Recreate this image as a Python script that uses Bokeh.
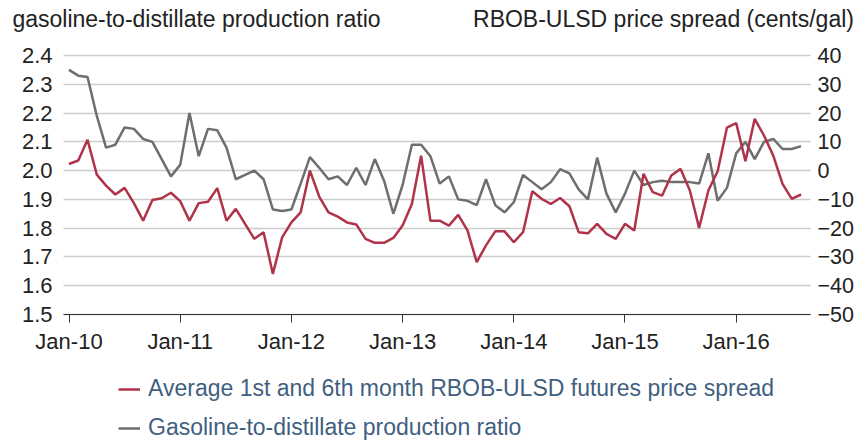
from bokeh.plotting import figure
from bokeh.models import (Range1d, LinearAxis, FixedTicker, NumeralTickFormatter,
                          Legend, LegendItem, ColumnDataSource)
from bokeh.embed import file_html
from bokeh.resources import INLINE
import pandas as pd

# ---- data -------------------------------------------------------------
months = [d.strftime("%b-%y") for d in pd.date_range("2010-01-01", "2016-08-01", freq="MS")]

production_ratio = [
    2.35, 2.33, 2.325, 2.19, 2.08, 2.09, 2.15, 2.145, 2.11, 2.10, 2.04, 1.98,
    2.02, 2.20, 2.05, 2.145, 2.14, 2.08, 1.97, 1.985, 2.00, 1.97, 1.865, 1.86,
    1.865, 1.955, 2.047, 2.01, 1.97, 1.98, 1.95, 2.01, 1.95, 2.04, 1.965, 1.85,
    1.95, 2.09, 2.09, 2.05, 1.955, 1.98, 1.90, 1.895, 1.88, 1.97, 1.88, 1.855,
    1.89, 1.985, 1.96, 1.935, 1.96, 2.005, 1.99, 1.935, 1.90, 2.045, 1.92, 1.855,
    1.92, 2.00, 1.95, 1.96, 1.965, 1.96, 1.96, 1.96, 1.955, 2.06, 1.895, 1.94,
    2.06, 2.10, 2.04, 2.10, 2.11, 2.075, 2.075, 2.085,
]

price_spread = [
    2.3, 3.5, 10.7, -1.4, -5.2, -8.3, -6.0, -11.3, -17.4, -10.2, -9.6, -7.7,
    -10.6, -17.4, -11.3, -10.8, -6.1, -17.4, -13.3, -18.5, -23.7, -21.4, -35.9, -23.2,
    -18.0, -14.5, 0.0, -9.0, -14.5, -16.0, -18.0, -18.7, -23.7, -25.1, -25.1, -23.4,
    -19.1, -11.6, 5.2, -17.4, -17.4, -19.1, -15.4, -20.8, -31.8, -26.0, -21.1, -21.1,
    -24.9, -21.4, -7.2, -9.8, -11.6, -9.5, -12.4, -21.4, -21.8, -18.5, -22.0, -23.7,
    -18.5, -20.8, -1.1, -7.5, -8.7, -1.7, 0.6, -6.9, -19.9, -6.9, -0.2, 14.9,
    16.5, 3.3, 18.0, 12.2, 5.2, -4.6, -9.8, -8.3,
]

ratio_ticks = [1.5, 1.6, 1.7, 1.8, 1.9, 2.0, 2.1, 2.2, 2.3, 2.4]
spread_ticks = [-50, -40, -30, -20, -10, 0, 10, 20, 30, 40]
x_tick_labels = ["Jan-10", "Jan-11", "Jan-12", "Jan-13", "Jan-14", "Jan-15", "Jan-16"]

left_title = "gasoline-to-distillate production ratio"
right_title = "RBOB-ULSD price spread (cents/gal)"
spread_label = "Average 1st and 6th month RBOB-ULSD futures price spread"
ratio_label = "Gasoline-to-distillate production ratio"

# ---- styling / layout ---------------------------------------------------
FONT = "Liberation Sans"
RED = "#b0334a"
GRAY = "#6e6e6e"
TXT = "#222222"
LEG_TXT = "#3f5f80"

# The frame covers the whole 857x440 canvas; the plotting area runs from
# x=63 to x=810 px and from y=55 (2.4 / 40) to y=314 px (1.5 / -50).
W, H = 857, 440
PL, PR, PT, PB = 63, 810, 55, 314
X_LO, X_HI = -0.594, 80.02            # month index at PL and PR
ppm = (PR - PL) / (X_HI - X_LO)
x_lo = X_LO - PL / ppm
x_hi = X_HI + (W - PR) / ppm
ppu_l = (PB - PT) / (ratio_ticks[-1] - ratio_ticks[0])
ppu_r = (PB - PT) / (spread_ticks[-1] - spread_ticks[0])
y_lo = ratio_ticks[0] - (H - PB) / ppu_l
y_hi = ratio_ticks[-1] + PT / ppu_l
s_lo = spread_ticks[0] - (H - PB) / ppu_r
s_hi = spread_ticks[-1] + PT / ppu_r
title_line_y = ratio_ticks[-1] + (PT - 40) / ppu_l

idx = list(range(len(months)))
src = ColumnDataSource(dict(x=idx, month=months, ratio=production_ratio, spread=price_spread))

p = figure(width=W, height=H, output_backend="svg", toolbar_location=None,
           x_range=Range1d(x_lo, x_hi), y_range=Range1d(y_lo, y_hi),
           min_border_left=0, min_border_right=0, min_border_top=0, min_border_bottom=0)
p.extra_y_ranges = {"spread": Range1d(s_lo, s_hi)}
p.extra_x_ranges = {"px": Range1d(0, W)}
p.outline_line_color = None
p.background_fill_color = "white"
p.border_fill_color = "white"

p.xgrid.visible = False
p.ygrid.ticker = FixedTicker(ticks=ratio_ticks)
p.ygrid.grid_line_color = "#cccccc"
p.ygrid.grid_line_width = 1.5
p.ygrid.cross_bounds = (X_LO, X_HI)

def style_axis(ax, standoff):
    ax.axis_line_color = None
    ax.major_tick_out = 0
    ax.major_tick_in = 0
    ax.minor_tick_out = 0
    ax.minor_tick_in = 0
    ax.major_label_standoff = standoff
    ax.major_label_text_font = FONT
    ax.major_label_text_font_size = "22px"
    ax.major_label_text_color = TXT

ya = p.yaxis[0]
ya.ticker = FixedTicker(ticks=ratio_ticks)
ya.formatter = NumeralTickFormatter(format="0.0")
style_axis(ya, 11)
ya.fixed_location = X_LO

ra = LinearAxis(y_range_name="spread", ticker=FixedTicker(ticks=spread_ticks))
style_axis(ra, 7)
ra.major_label_text_font_size = "21.5px"
ra.fixed_location = X_HI
p.add_layout(ra, "right")

xt = [months.index(lbl) for lbl in x_tick_labels]
xa = p.xaxis[0]
xa.ticker = FixedTicker(ticks=xt)
xa.major_label_overrides = {t: lbl for t, lbl in zip(xt, x_tick_labels)}
style_axis(xa, 6)
xa.fixed_location = ratio_ticks[0]
xa.bounds = (X_LO, X_HI)
xa.axis_line_color = "#333333"
xa.axis_line_width = 1.2
xa.major_tick_line_color = "#333333"
xa.major_tick_out = 8

# the two axis titles, as labels of an axis along the top
title_pos = [196, 663]
ta = LinearAxis(x_range_name="px", ticker=FixedTicker(ticks=title_pos))
ta.major_label_overrides = {title_pos[0]: left_title, title_pos[1]: right_title}
style_axis(ta, 9)
ta.major_label_text_font_size = "23px"
ta.fixed_location = title_line_y
p.add_layout(ta, "above")

r_gray = p.line("x", "ratio", source=src, line_color=GRAY, line_width=2.5)
r_red = p.line("x", "spread", source=src, y_range_name="spread", line_color=RED, line_width=2.5)

legend = Legend(items=[LegendItem(label=spread_label, renderers=[r_red]),
                       LegendItem(label=ratio_label, renderers=[r_gray])],
                location=(118, -1), orientation="vertical", padding=0, margin=0,
                border_line_alpha=0, background_fill_alpha=0,
                label_text_font=FONT, label_text_font_size="23px", label_text_color=LEG_TXT,
                glyph_width=22, glyph_height=26, label_height=26, spacing=12, label_standoff=8)
p.add_layout(legend)

open("out.html", "w").write(file_html(p, INLINE))
